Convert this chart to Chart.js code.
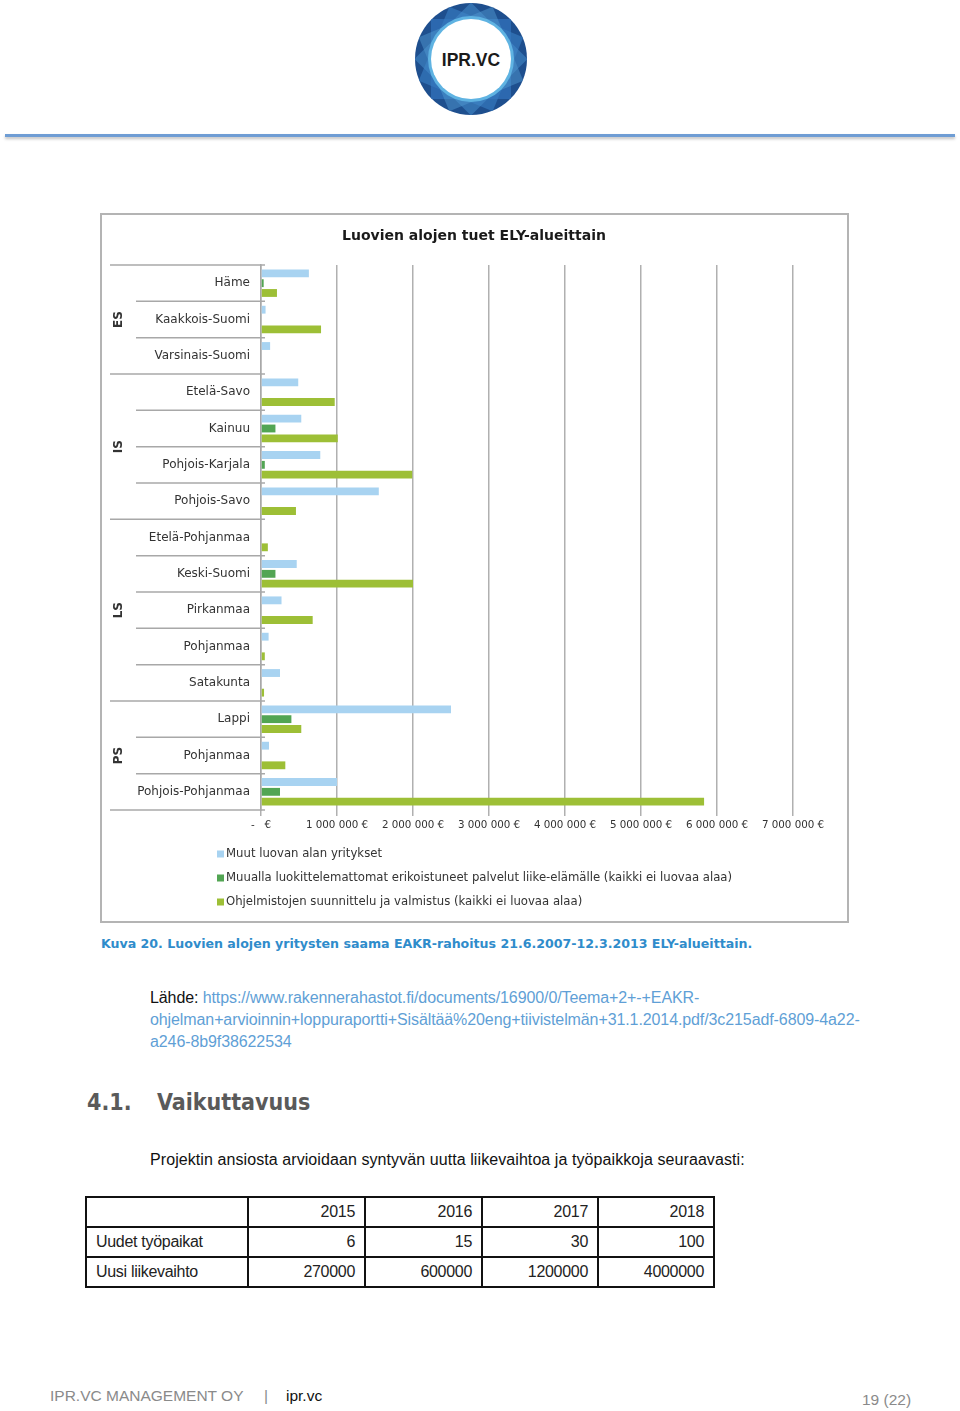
<!DOCTYPE html>
<html>
<head>
<meta charset="utf-8">
<script src="https://cdn.jsdelivr.net/npm/chart.js@4"></script>
<style>
  body { margin: 0; background: #fff; }
  #page { position: relative; width: 960px; height: 1411px; overflow: hidden; font-family: "Liberation Sans", Arial, sans-serif; }
  .abs { position: absolute; white-space: nowrap; }
  #hline { left: 5px; top: 134px; width: 950px; height: 3px; background: #6f9dd4; box-shadow: 0 2px 3px rgba(0,0,0,0.25); }
  #box { left: 100px; top: 213px; width: 745px; height: 706px; border: 2px solid #b4b4b4; }
  #chart { position: absolute; left: 102px; top: 215px; }
  #caption { left: 101px; top: 936px; font-family: "DejaVu Sans"; font-weight: bold; font-size: 12.6px; color: #2f8ccb; }
  .src { left: 150px; font-size: 16px; color: #5f9fd6; letter-spacing: -0.1px; }
  .src b { color: #111; font-weight: normal; }
  .heading { top: 1089px; font-family: "DejaVu Sans Condensed", "DejaVu Sans"; font-weight: bold; font-size: 23px; color: #5a5a5a; }
  #para { left: 150px; top: 1151px; font-size: 16px; color: #111; letter-spacing: 0.08px; }
  table { position: absolute; left: 85px; top: 1196px; border-collapse: collapse; table-layout: fixed; width: 630px; font-size: 16px; color: #222; letter-spacing: -0.3px; }
  tr { height: 30px; }
  td { border: 2px solid #111; padding: 0 9px; text-align: right; }
  td:first-child { text-align: left; }
  #foot1 { left: 50px; top: 1387px; font-size: 15.5px; color: #8a8a8a; }
  #foot2 { left: 264px; top: 1387px; font-size: 15.5px; color: #8a8a8a; }
  #foot3 { left: 286px; top: 1387px; font-size: 15.5px; color: #111; }
  #foot4 { left: 862px; top: 1391px; font-size: 15.5px; color: #8a8a8a; }
</style>
</head>
<body>
<div id="page">
  <svg class="abs" style="left:410px;top:0px" width="124" height="124" viewBox="0 0 124 124">
    <defs><clipPath id="ring"><circle cx="61" cy="59" r="56"/></clipPath></defs>
    <circle cx="61" cy="59" r="56" fill="#1f4f8f"/>
    <g clip-path="url(#ring)" opacity="0.85">
      <rect x="21" y="19" width="80" height="80" fill="#2f6db5" transform="rotate(0 61 59)"/>
      <rect x="21" y="19" width="80" height="80" fill="#3a80c6" opacity="0.7" transform="rotate(22.5 61 59)"/>
      <rect x="21" y="19" width="80" height="80" fill="#4a93d2" opacity="0.6" transform="rotate(45 61 59)"/>
      <rect x="21" y="19" width="80" height="80" fill="#5aa6dc" opacity="0.5" transform="rotate(67.5 61 59)"/>
    </g>
    <circle cx="61" cy="59" r="43" fill="#5fb3e2"/>
    <circle cx="61" cy="59" r="40" fill="#fff"/>
    <text x="61" y="66" text-anchor="middle" font-family="Liberation Sans" font-weight="bold" font-size="17.5" fill="#1a1a1a">IPR.VC</text>
  </svg>
  <div id="hline" class="abs"></div>
  <div id="box" class="abs"></div>
  <canvas id="chart" width="744" height="704"></canvas>
  <div id="caption" class="abs">Kuva 20. Luovien alojen yritysten saama EAKR-rahoitus 21.6.2007-12.3.2013 ELY-alueittain.</div>
  <div class="abs src" style="top:989px"><b>Lähde:</b> https://www.rakennerahastot.fi/documents/16900/0/Teema+2+-+EAKR-</div>
  <div class="abs src" style="top:1011px">ohjelman+arvioinnin+loppuraportti+Sisältää%20eng+tiivistelmän+31.1.2014.pdf/3c215adf-6809-4a22-</div>
  <div class="abs src" style="top:1033px">a246-8b9f38622534</div>
  <div class="abs heading" style="left:87px">4.1.</div>
  <div class="abs heading" style="left:157px">Vaikuttavuus</div>
  <div id="para" class="abs">Projektin ansiosta arvioidaan syntyvän uutta liikevaihtoa ja työpaikkoja seuraavasti:</div>
  <table id="tbl">
    <colgroup><col style="width:162px"><col style="width:117px"><col style="width:117px"><col style="width:116px"><col style="width:116px"></colgroup>
  </table>
  <div id="foot1" class="abs">IPR.VC MANAGEMENT OY</div>
  <div id="foot2" class="abs">|</div>
  <div id="foot3" class="abs">ipr.vc</div>
  <div id="foot4" class="abs">19 (22)</div>
</div>
<script>
// ELY-alueet ja suuralueet
var regions = ['Häme', 'Kaakkois-Suomi', 'Varsinais-Suomi', 'Etelä-Savo', 'Kainuu', 'Pohjois-Karjala', 'Pohjois-Savo',
  'Etelä-Pohjanmaa', 'Keski-Suomi', 'Pirkanmaa', 'Pohjanmaa', 'Satakunta', 'Lappi', 'Pohjanmaa', 'Pohjois-Pohjanmaa'];
var groups = ['ES', 'IS', 'LS', 'PS'];
var groupSizes = [3, 4, 5, 3];

// euroa
var muut = [630000, 60000, 120000, 490000, 530000, 780000, 1550000, 0, 470000, 270000, 100000, 250000, 2500000, 105000, 1000000];
var muualla = [35000, 0, 0, 10000, 190000, 50000, 10000, 0, 190000, 0, 0, 0, 400000, 0, 250000];
var ohjelmistot = [210000, 790000, 0, 970000, 1010000, 1990000, 460000, 90000, 2000000, 680000, 50000, 40000, 530000, 320000, 5830000];

var seriesNames = ['Muut luovan alan yritykset',
  'Muualla luokittelemattomat erikoistuneet palvelut liike-elämälle (kaikki ei luovaa alaa)',
  'Ohjelmistojen suunnittelu ja valmistus (kaikki ei luovaa alaa)'];

// taulukko
var years = ['2015', '2016', '2017', '2018'];
var tyopaikat = [6, 15, 30, 100];
var liikevaihto = [270000, 600000, 1200000, 4000000];

var tbl = document.getElementById('tbl');
function addRow(label, vals) {
  var tr = document.createElement('tr');
  var html = '<td>' + label + '</td>';
  vals.forEach(function (v) { html += '<td>' + v + '</td>'; });
  tr.innerHTML = html;
  tbl.appendChild(tr);
}
addRow('', years);
addRow('Uudet työpaikat', tyopaikat);
addRow('Uusi liikevaihto', liikevaihto);

Chart.defaults.font.family = 'DejaVu Sans';
Chart.defaults.color = '#333';

// erotinviivat, ryhmien nimet ja selite
var extras = {
  id: 'extras',
  afterDraw: function (chart) {
    var ctx = chart.ctx;
    var y = chart.scales.y;
    var left = chart.chartArea.left;
    var step = y.getPixelForValue(1) - y.getPixelForValue(0);
    ctx.save();
    ctx.strokeStyle = '#a8a8a8';
    ctx.lineWidth = 1.5;
    var idx = 0;
    groups.forEach(function (g, gi) {
      var top = y.getPixelForValue(idx) - step / 2;
      for (var k = 0; k < groupSizes[gi]; k++) {
        var yy = y.getPixelForValue(idx + k) - step / 2;
        ctx.beginPath();
        ctx.moveTo(k === 0 ? 8 : 34, yy);
        ctx.lineTo(left + 4, yy);
        ctx.stroke();
      }
      idx += groupSizes[gi];
      var bottom = y.getPixelForValue(idx - 1) + step / 2;
      ctx.save();
      ctx.translate(17, (top + bottom) / 2);
      ctx.rotate(-Math.PI / 2);
      ctx.fillStyle = '#333';
      ctx.font = 'bold 12px "DejaVu Sans"';
      ctx.textAlign = 'center';
      ctx.textBaseline = 'middle';
      ctx.fillText(g, 0, 0);
      ctx.restore();
    });
    var last = y.getPixelForValue(regions.length - 1) + step / 2;
    ctx.beginPath();
    ctx.moveTo(8, last);
    ctx.lineTo(left + 4, last);
    ctx.stroke();

    ctx.font = '11.7px "DejaVu Sans"';
    ctx.textBaseline = 'middle';
    chart.data.datasets.forEach(function (ds, i) {
      var ly = 639 + i * 24;
      ctx.fillStyle = ds.backgroundColor;
      ctx.fillRect(115, ly - 3.5, 7, 7);
      ctx.fillStyle = '#333';
      ctx.fillText(ds.label, 124, ly);
    });
    ctx.restore();
  }
};

new Chart(document.getElementById('chart'), {
  type: 'bar',
  data: {
    labels: regions,
    datasets: [
      { label: seriesNames[0], data: muut, backgroundColor: '#a8d3f1' },
      { label: seriesNames[1], data: muualla, backgroundColor: '#52a553' },
      { label: seriesNames[2], data: ohjelmistot, backgroundColor: '#9dbf36' }
    ]
  },
  options: {
    indexAxis: 'y',
    responsive: false,
    animation: false,
    devicePixelRatio: 1,
    categoryPercentage: 0.81,
    barPercentage: 0.8,
    layout: { padding: { left: 0, right: 0, top: 0, bottom: 79 } },
    plugins: {
      legend: { display: false },
      tooltip: { enabled: false },
      title: {
        display: true,
        text: 'Luovien alojen tuet ELY-alueittain',
        color: '#1a1a1a',
        font: { size: 14, weight: 'bold' },
        padding: { top: 12.6, bottom: 20.6 }
      }
    },
    scales: {
      x: {
        min: 0,
        max: 7000000,
        afterFit: function (s) { s.height = 30; s.paddingLeft = 0; s.paddingRight = 53; },
        border: { display: false },
        grid: { color: '#b0b0b0', lineWidth: 1.5, drawTicks: true, tickLength: 6 },
        ticks: {
          stepSize: 1000000,
          padding: 3,
          color: '#333',
          font: { size: 10.3 },
          maxRotation: 0,
          callback: function (v) {
            if (v === 0) return '-   €';
            return String(v).replace(/\B(?=(\d{3})+(?!\d))/g, ' ') + ' €';
          }
        }
      },
      y: {
        afterFit: function (s) { s.width = 159; },
        border: { display: true, color: '#a8a8a8', width: 1.5 },
        grid: { display: false, drawTicks: false },
        ticks: { autoSkip: false, padding: 11, color: '#333', font: { size: 12 } }
      }
    }
  },
  plugins: [extras]
});
</script>
</body>
</html>
